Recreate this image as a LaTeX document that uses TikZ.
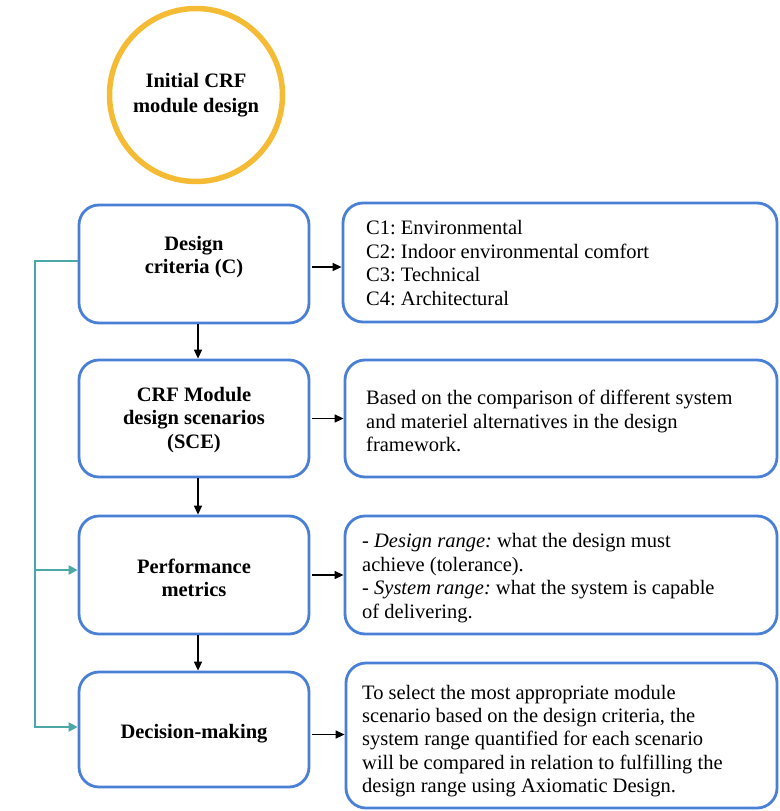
\documentclass[tikz,border=0pt]{standalone}
\usepackage{fontspec}
\setmainfont{Liberation Serif}
\frenchspacing
\usetikzlibrary{arrows.meta}
\definecolor{boxblue}{HTML}{4A7FD6}
\definecolor{gold}{HTML}{F5BB35}
\definecolor{tealc}{HTML}{4BA8A6}
\begin{document}
\begin{tikzpicture}[x=1pt,y=-1pt,
  lbox/.style={draw=boxblue,line width=2.8pt,rounded corners=20pt,minimum width=230pt,minimum height=118pt,inner sep=0pt},
  rbox/.style={draw=boxblue,line width=2.8pt,rounded corners=20pt,inner sep=0pt},
  btext/.style={font=\fontsize{20.5}{23.4}\selectfont\bfseries,align=center,inner sep=0pt},
  rtext/.style={font=\fontsize{20.5}{23.4}\selectfont,align=left,anchor=west,inner sep=0pt},
  arr/.style={line width=1.5pt,-{Triangle[length=9pt,width=8pt]}},
  tealline/.style={draw=tealc,line width=2.4pt},
  tealarr/.style={tealline,-{Triangle[length=9pt,width=9pt]}}]
\useasboundingbox (0,0) rectangle (779,811);
% circle
\node[circle,draw=gold,line width=5.5pt,minimum size=173pt,inner sep=0pt] (init) at (196,95) {};
\node[btext,font=\fontsize{20.5}{24.5}\selectfont\bfseries] (initt) at (196,95) {Initial CRF\\module design};
% left boxes
\node[lbox] (dc) at (194,264) {};
\node[lbox,minimum height=117pt] (sce) at (194,418.5) {};
\node[lbox] (pm) at (194,575) {};
\node[lbox,minimum height=115pt] (dm) at (194,729.5) {};
\node[btext] (dct) at (194,257) {Design\\criteria (C)};
\node[btext] (scet) at (194,420) {CRF Module\\design scenarios\\(SCE)};
\node[btext] (pmt) at (194,578) {Performance\\metrics};
\node[btext] (dmt) at (194,734) {Decision-making};
% right boxes
\node[rbox,minimum width=434pt,minimum height=119pt] (r1) at (560,262.5) {};
\node[rbox,minimum width=432pt,minimum height=117pt] (r2) at (561,418.5) {};
\node[rbox,minimum width=432pt,minimum height=118pt] (r3) at (561,575) {};
\node[rbox,minimum width=431pt,minimum height=145pt] (r4) at (561.5,735.5) {};
\node[rtext] (r1t) at (366,263) {C1: Environmental\\C2: Indoor environmental comfort\\C3: Technical\\C4: Architectural};
\node[rtext] (r2t) at (366,421) {Based on the comparison of different system\\and materiel alternatives in the design\\framework.};
\node[rtext] (r3t) at (362,578) {- \textit{Design range:} what the design must\\achieve (tolerance).\\- \textit{System range:} what the system is capable\\of delivering.};
\node[rtext] (r4t) at (362,741) {To select the most appropriate module\\scenario based on the design criteria, the\\system range quantified for each scenario\\will be compared in relation to fulfilling the\\design range using Axiomatic Design.};
% vertical arrows
\draw[arr] ([xshift=4pt]dc.south) -- ([xshift=4pt]sce.north);
\draw[arr] ([xshift=4pt]sce.south) -- ([xshift=4pt]pm.north);
\draw[arr] ([xshift=4pt]pm.south) -- ([xshift=4pt]dm.north);
% horizontal arrows
\draw[arr] ([xshift=2pt,yshift=-3pt]dc.east) -- ([yshift=-3pt]dc.east -| r1.west);
\draw[arr] ([xshift=2pt]sce.east) -- (sce.east -| r2.west);
\draw[arr] ([xshift=2pt]pm.east) -- (pm.east -| r3.west);
\draw[arr] ([xshift=2pt,yshift=-5pt]dm.east) -- ([yshift=-5pt]dm.east -| r4.west);
% teal feedback
\coordinate (t1) at (35,261);
\coordinate (t2) at (35,570);
\coordinate (t3) at (35,727);
\draw[tealarr] ([yshift=3pt]dc.west) -- (t1) -- (t3) -- (t3 -| dm.west);
\draw[tealarr] (t2) -- (t2 -| pm.west);
\end{tikzpicture}
\end{document}
